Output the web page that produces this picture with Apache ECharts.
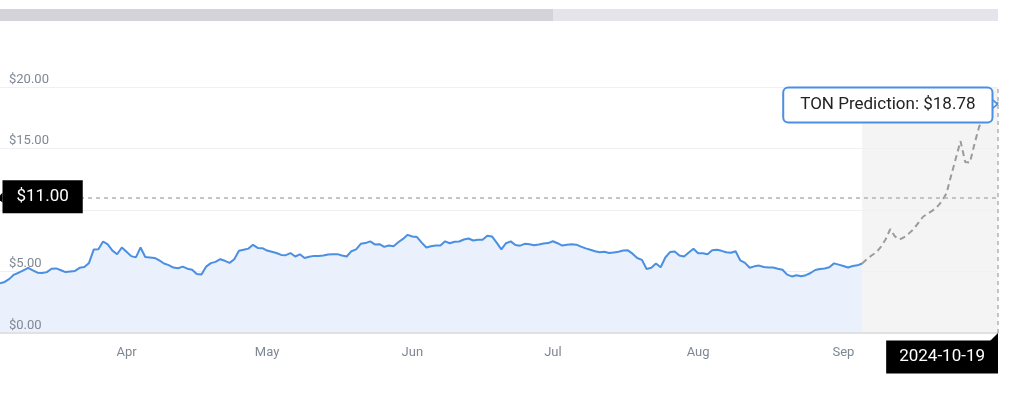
<!DOCTYPE html>
<html><head><meta charset="utf-8">
<script src="https://cdn.jsdelivr.net/npm/echarts/dist/echarts.min.js"></script>
<style>html,body{margin:0;padding:0;background:#fff}#c{width:1024px;height:399px}</style>
</head><body><div id="c"></div>
<script>
// ---- data ----
const histStart = '2024-03-05';
const histEnd = '2024-09-05';
const histValues = [
  4.05, 4.15, 4.4, 4.75, 4.9, 5.1, 5.3, 5.1, 4.9, 4.88,
  4.95, 5.22, 5.25, 5.1, 4.95, 5.0, 5.05, 5.3, 5.36, 5.7,
  6.78, 6.8, 7.44, 7.2, 6.7, 6.4, 6.95, 6.6, 6.25, 6.15,
  6.95, 6.18, 6.14, 6.1, 5.9, 5.65, 5.52, 5.32, 5.27, 5.4,
  5.23, 5.15, 4.8, 4.75, 5.4, 5.68, 5.78, 6.0, 5.87, 5.7,
  6.0, 6.68, 6.77, 6.86, 7.17, 6.92, 6.9, 6.7, 6.6, 6.5,
  6.35, 6.33, 6.5, 6.22, 6.4, 6.1, 6.2, 6.27, 6.27, 6.3,
  6.38, 6.41, 6.41, 6.3, 6.22, 6.65, 6.8, 7.25, 7.31, 7.45,
  7.2, 7.22, 7.0, 7.12, 7.05, 7.38, 7.65, 7.98, 7.85, 7.8,
  7.35, 6.95, 7.05, 7.11, 7.11, 7.45, 7.3, 7.42, 7.44, 7.6,
  7.68, 7.52, 7.58, 7.58, 7.9, 7.85, 7.35, 6.8, 7.3, 7.45,
  7.15, 7.1, 7.25, 7.22, 7.14, 7.2, 7.27, 7.31, 7.46, 7.3,
  7.11, 7.18, 7.22, 7.18, 7.02, 6.88, 6.77, 6.65, 6.56, 6.6,
  6.5, 6.55, 6.6, 6.7, 6.72, 6.45, 6.1, 5.95, 5.2, 5.3,
  5.65, 5.35, 6.14, 6.58, 6.62, 6.3, 6.22, 6.55, 6.85, 6.49,
  6.49, 6.41, 6.72, 6.76, 6.68, 6.56, 6.52, 6.65, 5.9, 5.7,
  5.3, 5.42, 5.48, 5.36, 5.32, 5.32, 5.22, 5.14, 4.75, 4.6,
  4.7, 4.62, 4.7, 4.88, 5.12, 5.2, 5.25, 5.35, 5.66, 5.56,
  5.45, 5.33, 5.45, 5.5, 5.65
];
const predDates = [
  '2024-09-07','2024-09-09','2024-09-10','2024-09-12','2024-09-13','2024-09-15',
  '2024-09-16','2024-09-18','2024-09-19','2024-09-21','2024-09-22','2024-09-24',
  '2024-09-25','2024-09-27','2024-09-28','2024-09-30','2024-10-01','2024-10-03',
  '2024-10-04','2024-10-06','2024-10-07','2024-10-09','2024-10-10','2024-10-12',
  '2024-10-13','2024-10-15','2024-10-16','2024-10-18','2024-10-19'
];
const predValues = [
  6.0, 6.3, 6.55, 7.0, 7.6, 8.45, 7.85, 7.6, 7.8, 8.1,
  8.45, 8.95, 9.45, 9.7, 9.95, 10.25, 10.7, 11.35, 12.8, 14.2,
  15.6, 13.9, 13.85, 15.4, 16.8, 17.4, 17.8, 18.2, 18.78
];
const monthLabels = {'04':'Apr','05':'May','06':'Jun','07':'Jul','08':'Aug','09':'Sep'};
const yTicks = [0, 5, 10, 15, 20];
const markerPrice = 11.00;
const predName = 'TON Prediction';

// ---- build ----
function dayRange(a, b) {
  const out = [];
  let d = new Date(a + 'T00:00:00Z');
  const e = new Date(b + 'T00:00:00Z');
  while (d <= e) { out.push(d.toISOString().slice(0, 10)); d = new Date(d.getTime() + 86400000); }
  return out;
}
const histDates = dayRange(histStart, histEnd);
const histSet = new Set(histDates);
const categories = histDates.concat(predDates);
const lastHistDate = histDates[histDates.length - 1];
const lastPredDate = predDates[predDates.length - 1];
const lastPredValue = predValues[predValues.length - 1];
const yMin = yTicks[0], yMax = yTicks[yTicks.length - 1], yStep = yTicks[1] - yTicks[0];
const predSeriesData = [[lastHistDate, histValues[histValues.length - 1]]]
  .concat(predDates.map((d, i) => [d, predValues[i]]));

const FONT = 'Roboto, "Noto Sans", Arial, sans-serif';
const chart = echarts.init(document.getElementById('c'), null, {renderer: 'canvas'});
chart.setOption({
  animation: false,
  backgroundColor: '#ffffff',
  textStyle: {fontFamily: FONT},
  grid: {left: 0, right: 26, top: 87, bottom: 66, containLabel: false, outerBoundsMode: 'none'},
  graphic: [
    {type: 'rect', left: 0, top: 9, shape: {width: 553, height: 12}, style: {fill: '#d3d3d9'}, silent: true},
    {type: 'rect', left: 553, top: 9, shape: {width: 445, height: 12}, style: {fill: '#e4e4ea'}, silent: true}
  ],
  xAxis: {
    type: 'category',
    data: categories,
    boundaryGap: false,
    z: 3,
    axisLine: {show: true, onZero: false, lineStyle: {color: '#dfe1e5', width: 2}},
    axisTick: {show: false},
    splitLine: {show: false},
    axisLabel: {
      interval: (idx, val) => histSet.has(val) && val.slice(8) === '01',
      formatter: (val) => monthLabels[val.slice(5, 7)] || '',
      color: '#7f8794', fontSize: 13, margin: 13, fontFamily: FONT,
      hideOverlap: false
    }
  },
  yAxis: {
    type: 'value',
    min: yMin, max: yMax, interval: yStep,
    z: 3,
    axisLine: {show: false},
    axisTick: {show: false},
    splitLine: {lineStyle: {color: '#eef0f3', width: 1}},
    axisLabel: {
      inside: true, margin: 9, verticalAlign: 'bottom', align: 'left',
      padding: [0, 0, 1, 0],
      customValues: yTicks,
      showMinLabel: true, showMaxLabel: true, hideOverlap: false,
      color: '#7f8794', fontSize: 13, fontFamily: FONT,
      formatter: (v) => '$' + Number(v).toFixed(2)
    }
  },
  series: [
    {
      name: 'history area',
      type: 'line',
      data: histValues,
      symbol: 'none',
      lineStyle: {width: 0, opacity: 0},
      areaStyle: {color: '#eaf1fc', opacity: 1},
      silent: true,
      z: 1
    },
    {
      name: 'history',
      type: 'line',
      data: histValues,
      symbol: 'none',
      lineStyle: {color: '#4a8fe2', width: 2},
      z: 4
    },
    {
      name: 'prediction',
      type: 'line',
      data: predSeriesData,
      symbol: 'none',
      lineStyle: {color: '#9b9b9b', width: 2, type: [6, 4]},
      z: 4,
      markArea: {
        silent: true,
        z: 1,
        itemStyle: {color: '#f4f4f4'},
        data: [[{xAxis: lastHistDate}, {xAxis: lastPredDate}]]
      },
      markLine: {
        silent: true,
        z: 5,
        symbol: 'none',
        label: {show: false},
        lineStyle: {color: '#b3b3b3', width: 1.5, type: [4, 4]},
        data: [{yAxis: markerPrice}, {xAxis: lastPredDate}]
      },
      markPoint: {
        silent: true,
        z: 6,
        data: [
          // $11.00 label on the price axis
          {
            coord: [histDates[0], markerPrice],
            symbol: 'triangle', symbolRotate: 90, symbolSize: [10, 5], symbolOffset: [0, 0],
            itemStyle: {color: '#000'},
            label: {show: false}
          },
          {
            coord: [histDates[0], markerPrice],
            symbol: 'rect', symbolSize: 1,
            itemStyle: {color: 'rgba(0,0,0,0)'},
            label: {
              show: true, position: 'right', distance: 2,
              formatter: '$' + markerPrice.toFixed(2),
              backgroundColor: '#000', color: '#fff', fontSize: 17, lineHeight: 17,
              padding: [8, 14], fontFamily: FONT, offset: [0, -1]
            }
          },
          // date label on the time axis
          {
            coord: [lastPredDate, yMin],
            symbol: 'rect', symbolSize: 1,
            itemStyle: {color: 'rgba(0,0,0,0)'},
            label: {
              show: true, position: 'bottom', distance: 7, align: 'right',
              formatter: lastPredDate,
              backgroundColor: '#000', color: '#fff', fontSize: 17, lineHeight: 17,
              padding: [8, 13], fontFamily: FONT
            }
          },
          {
            coord: [lastPredDate, yMin],
            symbol: 'path://M0,10 L10,0 L10,10 Z', symbolSize: 8, symbolOffset: [-4, 4],
            itemStyle: {color: '#000'},
            label: {show: false}
          },
          // prediction tooltip
          {
            coord: [lastPredDate, lastPredValue],
            symbol: 'rect', symbolSize: 1,
            itemStyle: {color: 'rgba(0,0,0,0)'},
            label: {
              show: true, position: 'left', distance: 6,
              formatter: predName + ': $' + lastPredValue.toFixed(2),
              backgroundColor: '#fff', borderColor: '#4a8fe2', borderWidth: 2, borderRadius: 4,
              color: '#222', fontSize: 17, lineHeight: 19, padding: [7, 16], fontFamily: FONT,
              offset: [0, 3]
            }
          },
          {
            coord: [lastPredDate, lastPredValue],
            symbol: 'triangle', symbolRotate: -90, symbolSize: [12, 7], symbolOffset: [-4, 2],
            itemStyle: {color: '#fff', borderColor: '#4a8fe2', borderWidth: 1.5},
            label: {show: false}
          }
        ]
      }
    }
  ]
});
</script>
</body></html>
